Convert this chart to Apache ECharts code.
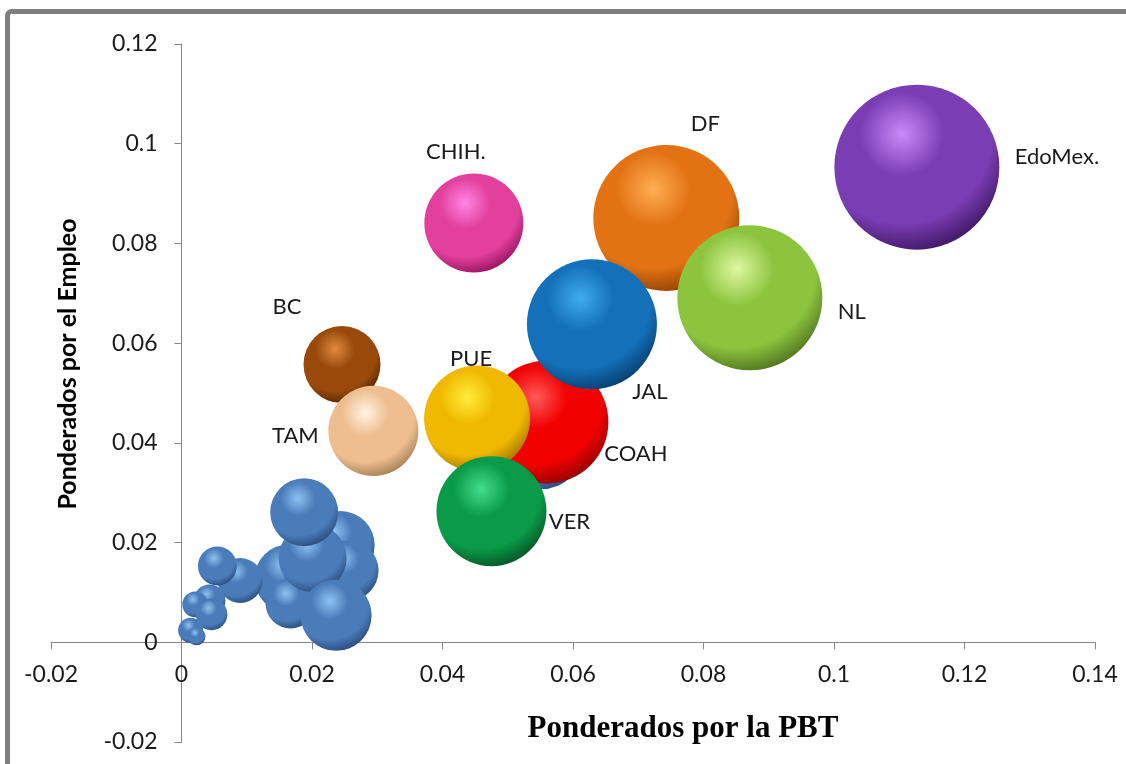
<!DOCTYPE html>
<html>
<head>
<meta charset="utf-8">
<script src="https://cdn.jsdelivr.net/npm/echarts@6/dist/echarts.min.js"></script>
<style>
  html, body { margin: 0; padding: 0; background: #ffffff; }
  #chart { width: 1126px; height: 764px; }
</style>
</head>
<body>
<div id="chart"></div>
<script>
// Estados con etiqueta: ponderado por la PBT (x), ponderado por el empleo (y), tamaño de burbuja
const estados = ['BC', 'TAM', 'CHIH.', 'DF', 'COAH', 'JAL', 'PUE', 'VER', 'NL', 'EdoMex.'];
const pbtEstados = [0.0246, 0.0294, 0.0448, 0.0743, 0.0560, 0.0629, 0.0453, 0.0475, 0.0871, 0.1127];
const empleoEstados = [0.0557, 0.0424, 0.0841, 0.0851, 0.0442, 0.0638, 0.0449, 0.0263, 0.0691, 0.0953];
const tamEstados = [2.94, 4.02, 4.86, 10.57, 7.50, 8.38, 5.57, 6.00, 10.43, 13.50];

// Resto de las entidades (sin etiqueta)
const pbtOtros = [0.0550, 0.0244, 0.0256, 0.0164, 0.0167, 0.0201, 0.0188, 0.0237,
                  0.0090, 0.0055, 0.0043, 0.0021, 0.0046, 0.0014, 0.0023];
const empleoOtros = [0.0395, 0.0195, 0.0144, 0.0128, 0.0078, 0.0169, 0.0261, 0.0054,
                     0.0124, 0.0153, 0.0084, 0.0076, 0.0056, 0.0024, 0.0012];
const tamOtros = [3.84, 2.29, 1.79, 2.29, 1.24, 2.29, 2.29, 2.50,
                  1.00, 0.75, 0.50, 0.33, 0.50, 0.31, 0.16];

const ticksX = [-0.02, 0, 0.02, 0.04, 0.06, 0.08, 0.1, 0.12, 0.14];
const ticksY = [-0.02, 0, 0.02, 0.04, 0.06, 0.08, 0.1, 0.12];

// Orden de dibujo (las de adelante al final)
const ordenEstados = ['BC', 'TAM', 'CHIH.', 'DF', 'COAH', 'JAL', 'PUE', 'VER', 'NL', 'EdoMex.'];

// Colores de cada esfera: [cuerpo, brillo, borde]
const colores = {
  'EdoMex.': ['#7a3db3', '#c98af8', '#3a145e'],
  'DF':      ['#e27214', '#ffae52', '#8a3e00'],
  'NL':      ['#8cc43e', '#dff7a2', '#4c6e1e'],
  'JAL':     ['#1470b8', '#40acf0', '#053a6a'],
  'COAH':    ['#f20000', '#ff5a5a', '#8e0000'],
  'PUE':     ['#f0b900', '#ffec3a', '#a06e00'],
  'VER':     ['#0a9a48', '#44dc8e', '#044f24'],
  'CHIH.':   ['#e2409c', '#ff86e6', '#94105c'],
  'BC':      ['#994a0a', '#e08a44', '#502200'],
  'TAM':     ['#eebe90', '#fff4e4', '#a07a52'],
  'otros':   ['#4a7cba', '#8cc2f2', '#284878']
};

// Desplazamiento de cada etiqueta respecto al centro de su burbuja (px)
const desplazamientos = {
  'EdoMex.': [140, -10],
  'DF':      [39, -94],
  'NL':      [102, 14],
  'JAL':     [58, 68],
  'COAH':    [89, 32],
  'VER':     [78, 11],
  'PUE':     [-6, -60],
  'CHIH.':   [-18, -71],
  'BC':      [-55, -58],
  'TAM':     [-78, 5]
};

function esfera(c) {
  return {
    type: 'radial', x: 0.41, y: 0.3, r: 0.8,
    colorStops: [
      { offset: 0, color: c[1] },
      { offset: 0.32, color: c[0] },
      { offset: 0.68, color: c[0] },
      { offset: 0.93, color: c[2] },
      { offset: 1, color: c[2] }
    ]
  };
}

const tamMax = Math.max(...tamEstados, ...tamOtros);
const diamMax = 165;

const datos = [];
pbtOtros.forEach((x, i) => {
  datos.push({
    name: '',
    value: [x, empleoOtros[i], tamOtros[i]],
    itemStyle: { color: esfera(colores.otros), opacity: 1 },
    label: { show: false }
  });
});
ordenEstados.forEach(n => {
  const i = estados.indexOf(n);
  datos.push({
    name: n,
    value: [pbtEstados[i], empleoEstados[i], tamEstados[i]],
    itemStyle: { color: esfera(colores[n]), opacity: 1 },
    label: { show: true, position: 'inside', offset: desplazamientos[n] }
  });
});

function fmt(v) { return String(parseFloat(Number(v).toFixed(4))); }

// Los ejes se cruzan en el origen: se desplazan hacia dentro desde el borde del área de trazado
const gridL = 51, gridR = 31, gridT = 44, gridB = 22;
const plotW = 1126 - gridL - gridR, plotH = 764 - gridT - gridB;
const xMin = ticksX[0], xMax = ticksX[ticksX.length - 1];
const yMin = ticksY[0], yMax = ticksY[ticksY.length - 1];
const offX = -(0 - yMin) / (yMax - yMin) * plotH;
const offY = -(0 - xMin) / (xMax - xMin) * plotW;

const chart = echarts.init(document.getElementById('chart'), null, { renderer: 'canvas' });
chart.setOption({
  backgroundColor: '#ffffff',
  animation: false,
  grid: { left: gridL, right: gridR, top: gridT, bottom: gridB, containLabel: false, outerBoundsMode: 'none' },
  xAxis: {
    type: 'value', position: 'bottom', offset: offX,
    min: xMin, max: xMax, interval: 0.02,
    splitLine: { show: false },
    axisLine: { onZero: false, lineStyle: { color: '#868686', width: 1 } },
    axisTick: { show: true, length: 7, lineStyle: { color: '#868686' } },
    axisLabel: {
      margin: 21, color: '#1a1a1a', fontSize: 23, fontFamily: 'Lato',
      formatter: fmt
    }
  },
  yAxis: {
    type: 'value', position: 'left', offset: offY,
    min: yMin, max: yMax, interval: 0.02,
    splitLine: { show: false },
    axisLine: { onZero: false, lineStyle: { color: '#868686', width: 1 } },
    axisTick: { show: true, length: 7, lineStyle: { color: '#868686' } },
    axisLabel: {
      margin: 24, color: '#1a1a1a', fontSize: 23, fontFamily: 'Lato',
      formatter: fmt
    }
  },
  series: [{
    type: 'scatter',
    symbol: 'circle',
    symbolSize: v => Math.sqrt(v[2] / tamMax) * diamMax,
    data: datos,
    itemStyle: { opacity: 1 },
    label: {
      formatter: '{b}', color: '#1a1a1a', fontSize: 22, fontFamily: 'Lato'
    },
    emphasis: { disabled: true }
  }],
  graphic: [
    {
      type: 'text', x: 68, y: 364, rotation: Math.PI / 2,
      style: {
        text: 'Ponderados por el Empleo', fill: '#000000',
        font: 'bold 25px Lato', textAlign: 'center', textVerticalAlign: 'middle'
      }
    },
    {
      type: 'text', x: 683, y: 729,
      style: {
        text: 'Ponderados por la PBT', fill: '#000000',
        font: 'bold 31px "Liberation Serif"', textAlign: 'center', textVerticalAlign: 'middle'
      }
    },
    {
      type: 'rect', silent: true,
      shape: { x: 7.5, y: 11.5, width: 1140, height: 790, r: 4 },
      style: { fill: 'none', stroke: '#7f7f7f', lineWidth: 5 }
    }
  ]
});
</script>
</body>
</html>
